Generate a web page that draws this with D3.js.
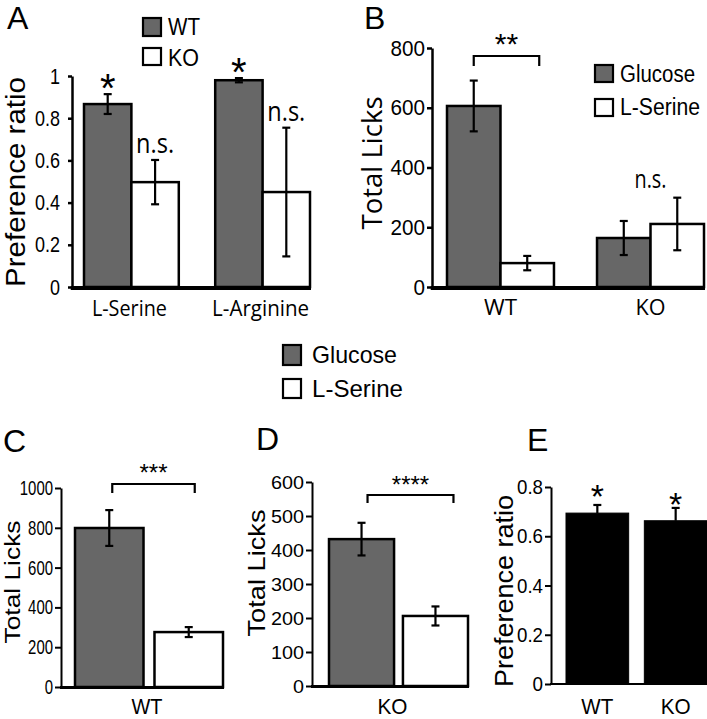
<!DOCTYPE html>
<html><head><meta charset="utf-8">
<script src="https://cdn.jsdelivr.net/npm/d3@7"></script>
<style>
html,body{margin:0;padding:0;background:#fff;}
svg{display:block;}
</style></head>
<body>
<svg id="chart" width="707" height="719"></svg>
<script>
// ---------------- DATA ----------------
// Panel A
const aCategories = ["L-Serine", "L-Arginine"];
const aSeries = ["WT", "KO"];
const aWT = [0.867, 0.98];
const aWTErr = [0.047, 0.01];
const aKO = [0.497, 0.45];
const aKOErr = [0.105, 0.305];
const aWTSig = ["*", "*"];
const aKOSig = ["n.s.", "n.s."];
const aTicks = [0, 0.2, 0.4, 0.6, 0.8, 1];
// Panel B
const bGroups = ["WT", "KO"];
const bSeries = ["Glucose", "L-Serine"];
const bGlucose = [606, 164];
const bGlucoseErr = [85, 57];
const bSerine = [80, 211];
const bSerineErr = [24, 88];
const bTicks = [0, 200, 400, 600, 800];
const bSig = ["**", "n.s."];
// Panel C
const cGroups = ["WT"];
const cSeries = ["Glucose", "L-Serine"];
const cValues = [799, 276];
const cErr = [90, 25];
const cTicks = [0, 200, 400, 600, 800, 1000];
const cSig = "***";
// Panel D
const dGroups = ["KO"];
const dValues = [432, 206];
const dErr = [48, 28];
const dTicks = [0, 100, 200, 300, 400, 500, 600];
const dSig = "****";
// Panel E
const eGroups = ["WT", "KO"];
const eValues = [0.694, 0.663];
const eErr = [0.033, 0.052];
const eTicks = [0, 0.2, 0.4, 0.6, 0.8];
const eSig = ["*", "*"];
// Legend (shared C/D)
const midLegend = ["Glucose", "L-Serine"];

// ---------------- STYLE ----------------
const GRAY = "#676767";
const SANS = "'Liberation Sans', Arial, sans-serif";
const OPEN = "'Open Sans', 'Liberation Sans', sans-serif";
const svg = d3.select("#chart");

function txt(g, s, x, y, o) {
  const t = g.append("text").attr("x", x).attr("y", y).text(s)
    .attr("font-family", o.family || SANS).attr("font-size", o.fs)
    .attr("text-anchor", o.anchor || "start").attr("fill", "#000");
  if (o.weight) t.attr("font-weight", o.weight);
  if (o.tl) t.attr("textLength", o.tl).attr("lengthAdjust", "spacingAndGlyphs");
  return t;
}
function vtxt(g, s, x, y, o) {
  const t = g.append("text").attr("transform", `translate(${x},${y}) rotate(-90)`)
    .text(s).attr("font-family", o.family || SANS).attr("font-size", o.fs)
    .attr("text-anchor", "middle").attr("fill", "#000");
  if (o.tl) t.attr("textLength", o.tl).attr("lengthAdjust", "spacingAndGlyphs");
  return t;
}

function panel(cfg) {
  const g = svg.append("g");
  const y = d3.scaleLinear().domain(cfg.yDomain).range(cfg.yRange);
  const x0 = d3.scaleBand().domain(cfg.groups).range(cfg.xRange).paddingInner(cfg.groupPad).paddingOuter(0);
  const x1 = d3.scaleBand().domain(cfg.series.map(s => s.key)).range([0, x0.bandwidth()]).paddingInner(cfg.seriesPad);

  // y axis
  const fmt = d3.format("");
  const ax = g.append("g").attr("transform", `translate(${cfg.axisX},0)`)
    .call(d3.axisLeft(y).tickValues(cfg.ticks).tickSize(cfg.tickLen).tickSizeOuter(0)
      .tickPadding(cfg.tickPad).tickFormat(fmt));
  ax.select(".domain").attr("stroke", "#000").attr("stroke-width", cfg.axisW);
  ax.selectAll(".tick line").attr("stroke", "#000").attr("stroke-width", cfg.axisW);
  ax.selectAll(".tick text").attr("font-family", SANS).attr("font-size", cfg.tickFs).attr("fill", "#000")
    .each(function (d) {
      const s = fmt(d);
      const dots = (s.match(/\./g) || []).length;
      const digits = s.length - dots;
      d3.select(this).attr("textLength", digits * cfg.digitW + dots * cfg.dotW)
        .attr("lengthAdjust", "spacingAndGlyphs");
    });

  // bars
  cfg.series.forEach(s => {
    cfg.groups.forEach((grp, i) => {
      const bx = x0(grp) + x1(s.key);
      const bw = x1.bandwidth();
      const v = s.values[i], e = s.errs[i];
      g.append("rect").attr("x", bx).attr("y", y(v)).attr("width", bw).attr("height", y(0) - y(v))
        .attr("fill", s.fill).attr("stroke", "#000").attr("stroke-width", cfg.barStroke);
      const cx = bx + bw / 2;
      const lo = cfg.upOnly ? v : v - e;
      g.append("line").attr("x1", cx).attr("x2", cx).attr("y1", y(lo)).attr("y2", y(v + e))
        .attr("stroke", "#000").attr("stroke-width", 2.2);
      [v + e].concat(cfg.upOnly ? [] : [v - e]).forEach(c => {
        g.append("line").attr("x1", cx - 4).attr("x2", cx + 4).attr("y1", y(c)).attr("y2", y(c))
          .attr("stroke", "#000").attr("stroke-width", 2.2);
      });
      if (s.sig) {
        const sg = s.sig[i];
        const isStar = sg.indexOf("*") === 0;
        const st = isStar ? cfg.starStyle : cfg.nsStyle;
        const ref = st.fromBar ? y(v) : y(v + e);
        txt(g, sg, cx + (st.dx || 0), ref + st.dy, { fs: st.fs, anchor: "middle", family: st.family, tl: st.tl, weight: st.weight });
      }
    });
  });

  // baseline
  g.append("line").attr("x1", cfg.axisX - cfg.axisW / 2).attr("x2", cfg.baseEnd)
    .attr("y1", y(0) + cfg.baseW / 2 - 1).attr("y2", y(0) + cfg.baseW / 2 - 1)
    .attr("stroke", "#000").attr("stroke-width", cfg.baseW);

  // group labels
  cfg.groups.forEach((grp, i) => {
    txt(g, grp, x0(grp) + x0.bandwidth() / 2 + (cfg.glDx || 0), cfg.glY,
      { fs: cfg.glFs, anchor: "middle", family: cfg.glFamily, tl: cfg.glTl ? cfg.glTl[i] : null });
  });

  // y title
  vtxt(g, cfg.title, cfg.titleX, cfg.titleY, { fs: cfg.titleFs, family: cfg.titleFamily, tl: cfg.titleTl });
  // panel letter
  txt(g, cfg.letter, cfg.letterX, cfg.letterY, { fs: 32 });

  return { g, y, x0, x1 };
}

function bracket(p, grp, k1, k2, b) {
  const x0 = p.x0, x1 = p.x1;
  const l = x0(grp) + x1(k1) + x1.bandwidth() / 2 + b.dl;
  const r = x0(grp) + x1(k2) + x1.bandwidth() / 2 + b.dr;
  p.g.append("path").attr("d", `M${l},${b.bot}V${b.top}H${r}V${b.bot}`)
    .attr("fill", "none").attr("stroke", "#000").attr("stroke-width", 2.2);
  txt(p.g, b.label, (l + r) / 2, b.top + b.dy, { fs: b.fs, anchor: "middle", tl: b.tl });
}

function legendItem(g, s, x, y, w, h, fill, tx, ty, fs, tl) {
  g.append("rect").attr("x", x).attr("y", y).attr("width", w).attr("height", h)
    .attr("fill", fill).attr("stroke", "#000").attr("stroke-width", 2.2);
  txt(g, s, tx, ty, { fs: fs, tl: tl });
}

// ---------------- PANEL A ----------------
const pA = panel({
  groups: aCategories,
  series: [
    { key: aSeries[0], values: aWT, errs: aWTErr, fill: GRAY, sig: aWTSig },
    { key: aSeries[1], values: aKO, errs: aKOErr, fill: "#fff", sig: aKOSig }
  ],
  yDomain: [0, 1], yRange: [287, 76], xRange: [84, 310], groupPad: 0.2776, seriesPad: 0,
  axisX: 72, ticks: aTicks, tickLen: 4, tickPad: 8, axisW: 2.5, tickFs: 22, digitW: 10, dotW: 5,
  barStroke: 2.5, baseEnd: 311, baseW: 4,
  starStyle: { fs: 40, dy: 8 }, nsStyle: { fs: 27, dy: -6.5, family: OPEN, tl: 38 },
  glY: 316, glFs: 22, glFamily: OPEN, glTl: [75, 97], glDx: -2,
  title: "Preference ratio", titleX: 25, titleY: 182, titleFs: 27, titleFamily: SANS, titleTl: 210,
  letter: "A", letterX: 7, letterY: 29
});
const lgA = svg.append("g");
legendItem(lgA, aSeries[0], 143, 18, 18, 18, GRAY, 168, 35, 23, 32);
legendItem(lgA, aSeries[1], 143, 48, 18, 17, "#fff", 168, 66, 23, 31);

// ---------------- PANEL B ----------------
const pB = panel({
  groups: bGroups,
  series: [
    { key: bSeries[0], values: bGlucose, errs: bGlucoseErr, fill: GRAY },
    { key: bSeries[1], values: bSerine, errs: bSerineErr, fill: "#fff" }
  ],
  yDomain: [0, 800], yRange: [287, 48], xRange: [447, 704], groupPad: 0.287, seriesPad: 0,
  axisX: 432, ticks: bTicks, tickLen: 5, tickPad: 2, axisW: 2.5, tickFs: 22, digitW: 11.5, dotW: 5,
  barStroke: 2.5, baseEnd: 705, baseW: 4,
  glY: 315, glFs: 22, glFamily: OPEN, glTl: [33, 30],
  title: "Total Licks", titleX: 382, titleY: 163, titleFs: 27, titleFamily: OPEN, titleTl: 133,
  letter: "B", letterX: 364, letterY: 29
});
bracket(pB, bGroups[0], bSeries[0], bSeries[1], { top: 56, bot: 66, dl: 0, dr: 12, label: bSig[0], dy: -2, fs: 30 });
// n.s. over KO group
txt(pB.g, bSig[1], pB.x0(bGroups[1]) + pB.x0.bandwidth() / 2, pB.y(bSerine[1] + bSerineErr[1]) - 10,
  { fs: 26, anchor: "middle", family: OPEN, tl: 32 });
const lgB = svg.append("g");
legendItem(lgB, bSeries[0], 595, 65, 18, 17, GRAY, 620, 82, 23, 75);
legendItem(lgB, bSeries[1], 595, 99, 18, 17, "#fff", 620, 115, 23, 80);

// ---------------- MIDDLE LEGEND ----------------
const lgM = svg.append("g");
legendItem(lgM, midLegend[0], 283, 345, 18, 20, GRAY, 312, 363, 24, 85);
legendItem(lgM, midLegend[1], 283, 379, 18, 19, "#fff", 312, 397, 24, 91);

// ---------------- PANEL C ----------------
const pC = panel({
  groups: cGroups,
  series: [
    { key: cSeries[0], values: cValues.slice(0, 1), errs: cErr.slice(0, 1), fill: GRAY },
    { key: cSeries[1], values: cValues.slice(1, 2), errs: cErr.slice(1, 2), fill: "#fff" }
  ],
  yDomain: [0, 1000], yRange: [687, 488], xRange: [75, 223], groupPad: 0, seriesPad: 0.138,
  axisX: 61, ticks: cTicks, tickLen: 6, tickPad: 2, axisW: 2, tickFs: 20, digitW: 8.3, dotW: 4,
  barStroke: 2.5, baseEnd: 224, baseW: 3,
  glY: 714, glFs: 22, glFamily: SANS, glTl: [31], glDx: -2,
  title: "Total Licks", titleX: 20, titleY: 582, titleFs: 21.5, titleFamily: SANS, titleTl: 123,
  letter: "C", letterX: 3, letterY: 452
});
bracket(pC, cGroups[0], cSeries[0], cSeries[1], { top: 484, bot: 493, dl: 3, dr: 6, label: cSig, dy: -3, fs: 24 });

// ---------------- PANEL D ----------------
const pD = panel({
  groups: dGroups,
  series: [
    { key: cSeries[0], values: dValues.slice(0, 1), errs: dErr.slice(0, 1), fill: GRAY },
    { key: cSeries[1], values: dValues.slice(1, 2), errs: dErr.slice(1, 2), fill: "#fff" }
  ],
  yDomain: [0, 600], yRange: [686, 482], xRange: [329, 468], groupPad: 0, seriesPad: 0.12,
  axisX: 312, ticks: dTicks, tickLen: 6, tickPad: 2, axisW: 2, tickFs: 19, digitW: 11, dotW: 5,
  barStroke: 2.5, baseEnd: 469, baseW: 3,
  glY: 714, glFs: 22, glFamily: SANS, glTl: [30], glDx: -6,
  title: "Total Licks", titleX: 265, titleY: 573, titleFs: 24, titleFamily: SANS, titleTl: 127,
  letter: "D", letterX: 256, letterY: 450
});
bracket(pD, dGroups[0], cSeries[0], cSeries[1], { top: 495, bot: 503, dl: 6, dr: 18, label: dSig, dy: -2, fs: 24 });

// ---------------- PANEL E ----------------
const pE = panel({
  groups: eGroups,
  series: [
    { key: "ratio", values: eValues, errs: eErr, fill: "#000", sig: eSig }
  ],
  yDomain: [0, 0.8], yRange: [684, 487], xRange: [566, 707], groupPad: 0.2, seriesPad: 0,
  axisX: 551, ticks: eTicks, tickLen: 6, tickPad: 2, axisW: 2, tickFs: 21, digitW: 10.5, dotW: 5,
  barStroke: 1, baseEnd: 707, baseW: 2, upOnly: true,
  starStyle: { fs: 34, dy: -5, fromBar: true }, nsStyle: { fs: 20, dy: 0 },
  glY: 714, glFs: 22, glFamily: SANS, glTl: [32, 30],
  title: "Preference ratio", titleX: 513, titleY: 591, titleFs: 25, titleFamily: SANS, titleTl: 192,
  letter: "E", letterX: 527, letterY: 451
});
</script>
</body></html>
